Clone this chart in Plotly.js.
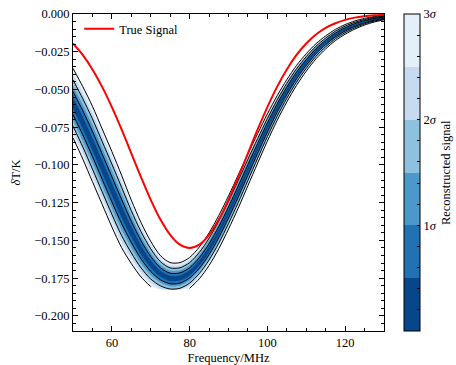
<!DOCTYPE html>
<html><head><meta charset="utf-8">
<script src="https://cdn.plot.ly/plotly-3.0.1.min.js"></script>
<style>html,body{margin:0;padding:0;background:#fff}#chart{width:456px;height:365px}</style>
</head><body><div id="chart"></div>
<script>
// Frequencies (MHz)
const freq = [50,52.5,55,57.5,60,62.5,65,67.5,70,72.5,75,77.5,80,82.5,85,87.5,90,92.5,95,97.5,100,102.5,105,107.5,110,112.5,115,117.5,120,122.5,125,127.5,130];
// True signal dT (K)
const trueSignal = [-0.0195,-0.0271,-0.0367,-0.0483,-0.0617,-0.0765,-0.0923,-0.1081,-0.1231,-0.1362,-0.1463,-0.1528,-0.1550,-0.1528,-0.1463,-0.1362,-0.1231,-0.1081,-0.0923,-0.0765,-0.0617,-0.0483,-0.0367,-0.0271,-0.0195,-0.0136,-0.0092,-0.0061,-0.0039,-0.0024,-0.0015,-0.0009,-0.0005];
// Reconstructed signal: mean and 3-sigma half width (K)
const reconMean = [-0.0590,-0.0720,-0.0861,-0.1011,-0.1161,-0.1308,-0.1443,-0.1562,-0.1656,-0.1721,-0.1752,-0.1749,-0.1715,-0.1649,-0.1558,-0.1445,-0.1315,-0.1176,-0.1032,-0.0890,-0.0752,-0.0624,-0.0509,-0.0407,-0.0321,-0.0247,-0.0188,-0.0139,-0.0102,-0.0073,-0.0051,-0.0035,-0.0024];
const recon3Sigma = [0.023,0.024,0.025,0.025,0.025,0.024,0.021,0.018,0.015,0.012,0.0105,0.0102,0.0102,0.0105,0.0108,0.011,0.011,0.011,0.0105,0.0098,0.009,0.0082,0.0074,0.0066,0.0058,0.005,0.0043,0.0037,0.0032,0.0027,0.0022,0.0018,0.0014];
// Lower limit of the reconstruction's temperature grid (K)
const tGridMin = -0.1825;
// Sigma levels and band colours (band 0-0.5σ ... 2.5-3σ)
const sigmaLevels = [0.5,1,1.5,2,2.5,3];
const contourLevels = [1,2,3];
const bandColors = ['#08468b','#2171b5','#4b99ca','#8dc1dd','#c6dbef','#e5eff9'];
const cbTickVals = [0.2,0.4,0.6,0.8,1,1.2,1.4,1.6,1.8,2,2.2,2.4,2.6,2.8,3];
const cbTickText = ['','','','','1<i>σ</i>','','','','','2<i>σ</i>','','','','','3<i>σ</i>'];

const FONT = 'Liberation Serif, Times New Roman, serif';
const FS = 12.5;

const bound = (k, sign) => freq.map((f, i) => Math.max(tGridMin, reconMean[i] + sign * k * recon3Sigma[i] / 3));
const boundLine = (k, sign) => freq.map((f, i) => {
  const v = reconMean[i] + sign * k * recon3Sigma[i] / 3;
  return v < tGridMin ? null : v;
});

const traces = [];
// filled bands, outermost first
for (let b = sigmaLevels.length - 1; b >= 0; b--) {
  const k = sigmaLevels[b];
  traces.push({type:'scatter', mode:'lines', x:freq, y:bound(k, -1),
    line:{width:0, shape:'spline', smoothing:0.8}, hoverinfo:'skip', showlegend:false});
  traces.push({type:'scatter', mode:'lines', x:freq, y:bound(k, 1), fill:'tonexty',
    fillcolor:bandColors[b], line:{width:0, shape:'spline', smoothing:0.8}, hoverinfo:'skip', showlegend:false});
}
// contour lines
contourLevels.forEach(k => {
  [-1, 1].forEach(s => {
    traces.push({type:'scatter', mode:'lines', x:freq, y:boundLine(k, s), connectgaps:false,
      line:{color:'#000', width:1, shape:'spline', smoothing:0.8}, hoverinfo:'skip', showlegend:false});
  });
});
// colour bar carrier (off-range)
const stepScale = [];
bandColors.forEach((c, k) => { stepScale.push([k / 6, c]); stepScale.push([(k + 1) / 6, c]); });
traces.push({type:'heatmap', x:[1000,1001], y:[1,2], z:[[0,3],[3,0]], zmin:0, zmax:3,
   colorscale:stepScale, showscale:true, hoverinfo:'skip', showlegend:false,
   colorbar:{x:1.064, xanchor:'left', y:0.5, yanchor:'middle', len:1, lenmode:'fraction',
     thickness:16, thicknessmode:'pixels', xpad:0, ypad:0,
     outlinewidth:1, outlinecolor:'#000',
     tickmode:'array', tickvals:cbTickVals, ticktext:cbTickText,
     ticks:'inside', ticklen:3, tickwidth:1, tickcolor:'#000',
     tickfont:{family:FONT, size:FS, color:'#000'}}});
// true signal
traces.push({type:'scatter', mode:'lines', x:freq, y:trueSignal, name:'True Signal',
   line:{color:'#ff0000', width:2, shape:'spline'}, hoverinfo:'skip'});

const axisCommon = {
  ticks:'inside', ticklen:5, tickwidth:1, tickcolor:'#000',
  showline:true, linecolor:'#000', linewidth:1, mirror:'allticks',
  showgrid:false, zeroline:false,
  tickfont:{family:FONT, size:FS, color:'#000'}
};

const layout = {
  width:456, height:365,
  margin:{l:73, r:72, t:14, b:34, pad:0},
  paper_bgcolor:'#fff', plot_bgcolor:'#fff',
  font:{family:FONT, size:FS, color:'#000'},
  xaxis:Object.assign({}, axisCommon, {
    range:[50,130], tickmode:'array', tickvals:[60,80,100,120],
    minor:{tick0:50, dtick:5, ticks:'inside', ticklen:3, tickcolor:'#000', showgrid:false},
    title:{text:'Frequency/MHz', font:{family:FONT, size:FS}, standoff:4}
  }),
  yaxis:Object.assign({}, axisCommon, {
    range:[-0.21,0], tick0:0, dtick:0.025, tickformat:'.3f',
    minor:{tick0:0, dtick:0.005, ticks:'inside', ticklen:3, tickcolor:'#000', showgrid:false},
    title:{text:'<i>δ</i>T/K', font:{family:FONT, size:FS}, standoff:10}
  }),
  showlegend:true,
  legend:{x:0.02, y:1.0, xanchor:'left', yanchor:'top', bgcolor:'rgba(0,0,0,0)',
    borderwidth:0, font:{family:FONT, size:FS, color:'#000'}},
  annotations:[{text:'Reconstructed signal', xref:'paper', yref:'paper', x:1.198, y:0.5,
    xanchor:'center', yanchor:'middle', textangle:-90, showarrow:false,
    font:{family:FONT, size:FS, color:'#000'}}]
};

Plotly.newPlot('chart', traces, layout, {staticPlot:true, displayModeBar:false});
</script>
</body></html>
